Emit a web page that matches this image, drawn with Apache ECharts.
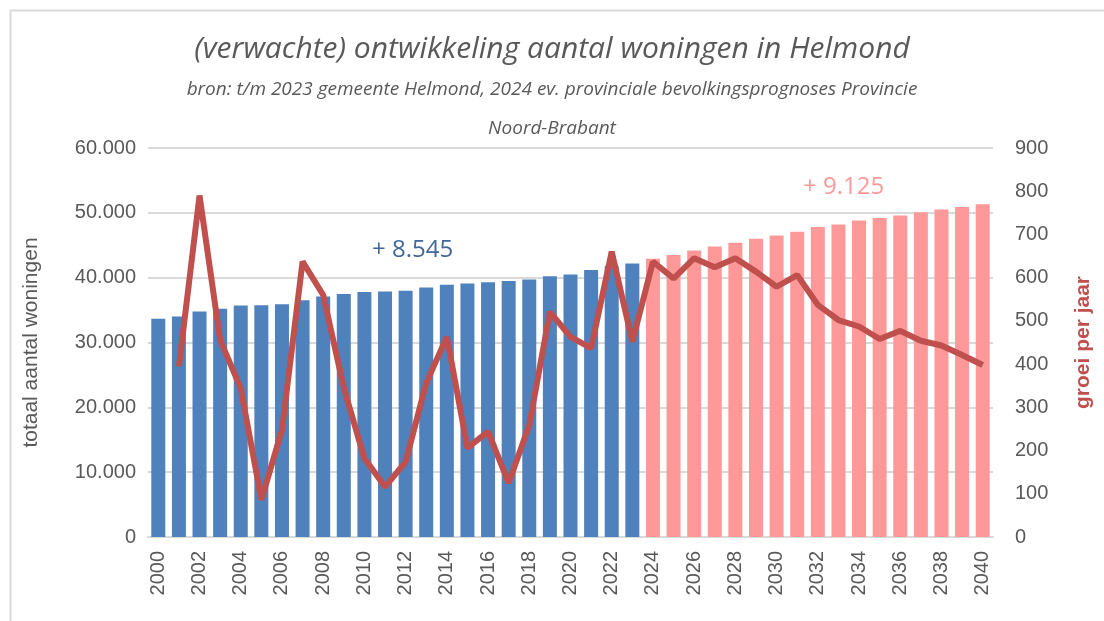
<!DOCTYPE html>
<html lang="nl">
<head>
    <meta charset="UTF-8">
    <title>Woningen Helmond</title>
    <script src="https://cdn.jsdelivr.net/npm/echarts@6/dist/echarts.min.js"></script>
    <style>
        body { margin: 0; background: #fff; }
        #main { width: 1104px; height: 621px; }
    </style>
</head>
<body>
    <div id="main"></div>
    <script>
        // jaren 2000 - 2040
        var years = [];
        for (var y = 2000; y <= 2040; y++) years.push(String(y));

        // totaal aantal woningen t/m 2023 (gemeente)
        var woningenHist = [33650, 34000, 34800, 35200, 35700, 35750, 35900, 36500, 37100, 37500,
            37800, 37850, 38000, 38500, 38900, 39100, 39300, 39500, 39700, 40200,
            40500, 41200, 41800, 42195];
        // prognose 2024 - 2040
        var woningenProg = [42900, 43500, 44200, 44800, 45400, 46000, 46500, 47100, 47800, 48200,
            48800, 49200, 49600, 50100, 50500, 50900, 51320];
        // groei per jaar (2001 - 2040)
        var groei = [null, 395, 790, 456, 344, 86, 248, 637, 560, 345,
            182, 116, 174, 356, 463, 206, 244, 125, 259, 521,
            463, 437, 660, 452, 637, 598, 645, 624, 645, 614,
            579, 606, 537, 502, 487, 458, 477, 454, 443, 421, 398];

        var blueData = years.map(function (y, i) { return i < woningenHist.length ? woningenHist[i] : null; });
        var pinkData = years.map(function (y, i) { return i >= woningenHist.length ? woningenProg[i - woningenHist.length] : null; });

        var grey = '#595959';
        var fmt = function (v) { return v === 0 ? '0' : v.toLocaleString('de-DE'); };

        var myChart = echarts.init(document.getElementById('main'));
        var option = {
            backgroundColor: '#fff',
            animation: false,
            title: [{
                text: '(verwachte) ontwikkeling aantal woningen in Helmond',
                left: 'center', top: 29,
                textStyle: { fontFamily: 'Open Sans', fontStyle: 'italic', fontWeight: 'normal', fontSize: 30, color: grey }
            }, {
                text: 'bron: t/m 2023 gemeente Helmond, 2024 ev. provinciale bevolkingsprognoses Provincie',
                left: 'center', top: 75,
                textStyle: { fontFamily: 'Open Sans', fontStyle: 'italic', fontWeight: 'normal', fontSize: 19, color: grey }
            }, {
                text: 'Noord-Brabant',
                left: 'center', top: 114,
                textStyle: { fontFamily: 'Open Sans', fontStyle: 'italic', fontWeight: 'normal', fontSize: 19, color: grey }
            }],
            grid: { left: 148, right: 111, top: 148, bottom: 84 },
            xAxis: {
                type: 'category',
                data: years,
                axisTick: { show: false },
                axisLine: { lineStyle: { color: '#d9d9d9', width: 2 } },
                axisLabel: {
                    interval: 1, rotate: 90, margin: 14,
                    fontFamily: 'Liberation Sans', fontSize: 20, color: grey
                }
            },
            yAxis: [{
                type: 'value', min: 0, max: 60000, interval: 10000,
                name: 'totaal aantal woningen',
                nameLocation: 'middle', nameGap: 106, nameRotate: 90,
                nameTextStyle: { fontFamily: 'Liberation Sans', fontSize: 21, color: grey },
                axisLabel: { formatter: fmt, fontFamily: 'Liberation Sans', fontSize: 20, color: grey, margin: 12 },
                splitLine: { lineStyle: { color: '#d9d9d9', width: 2 } }
            }, {
                type: 'value', min: 0, max: 900, interval: 100,
                name: 'groei per jaar',
                nameLocation: 'middle', nameGap: 80, nameRotate: 90,
                nameTextStyle: { fontFamily: 'Liberation Sans', fontSize: 21, fontWeight: 'bold', color: '#c0504d' },
                axisLabel: { fontFamily: 'Liberation Sans', fontSize: 20, color: grey, margin: 22 },
                splitLine: { show: false }
            }],
            series: [{
                name: 'woningen t/m 2023',
                type: 'bar',
                data: blueData,
                barWidth: 14,
                barGap: '-100%',
                itemStyle: { color: '#4f81bd' }
            }, {
                name: 'woningen prognose',
                type: 'bar',
                data: pinkData,
                barWidth: 14,
                itemStyle: { color: '#ff9999' }
            }, {
                name: 'groei per jaar',
                type: 'line',
                yAxisIndex: 1,
                data: groei,
                symbol: 'none',
                lineStyle: { color: '#c0504d', width: 6 },
                z: 5
            }],
            graphic: [{
                type: 'rect', left: 8, top: 8,
                shape: { width: 1200, height: 1000 },
                style: { fill: 'none', stroke: '#d9d9d9', lineWidth: 2 },
                silent: true
            }, {
                type: 'text', left: 372, top: 238,
                style: { text: '+ 8.545', fontFamily: 'Open Sans', fontSize: 24, fill: '#41679c' }
            }, {
                type: 'text', left: 803, top: 175,
                style: { text: '+ 9.125', fontFamily: 'Open Sans', fontSize: 24, fill: '#ff9999' }
            }]
        };
        myChart.setOption(option);
    </script>
</body>
</html>
